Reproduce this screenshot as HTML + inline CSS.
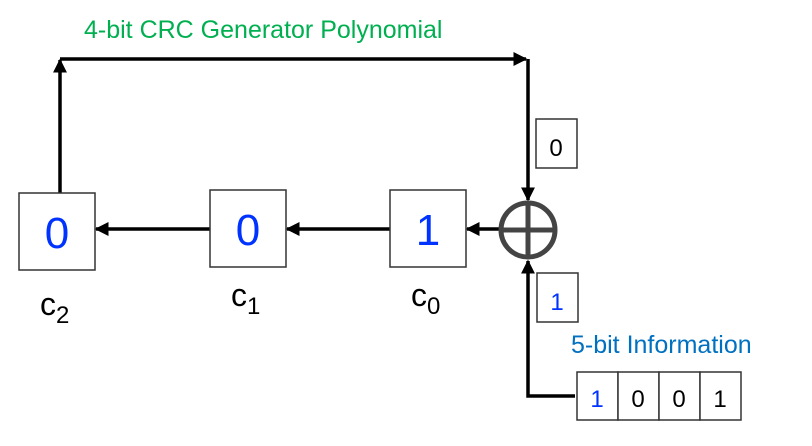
<!DOCTYPE html>
<html><head><style>
body{margin:0;background:#fff;}
svg text{font-family:"Liberation Sans",sans-serif;}
</style></head><body>
<svg width="812" height="441" viewBox="0 0 812 441" xmlns="http://www.w3.org/2000/svg">
<defs>
<marker id="a" viewBox="0 0 10 10" refX="9" refY="5" markerWidth="4" markerHeight="4" orient="auto"><path d="M0,0L10,5L0,10z" fill="#000"/></marker>
</defs>
<text x="84" y="38" font-size="25" fill="#00b050">4-bit CRC Generator Polynomial</text>
<g stroke="#000" stroke-width="3.5" fill="none">
<polyline points="60,193 60,60" marker-end="url(#a)"/>
<polyline points="60,59 526,59" marker-end="url(#a)"/>
<polyline points="528,59 528,200" marker-end="url(#a)"/>
<polyline points="210,229 96,229" marker-end="url(#a)"/>
<polyline points="390,229 287,229" marker-end="url(#a)"/>
<polyline points="500,229 467,229" marker-end="url(#a)"/>
<polyline points="575,396 528,396 528,261" marker-end="url(#a)"/>
</g>
<circle cx="528" cy="230" r="27" fill="#fff" stroke="#444" stroke-width="5"/>
<line x1="501" y1="230" x2="555" y2="230" stroke="#444" stroke-width="5"/>
<line x1="528" y1="203" x2="528" y2="257" stroke="#444" stroke-width="5"/>
<g fill="#fff" stroke="#333" stroke-width="1.5">
<rect x="19" y="193" width="76" height="77"/>
<rect x="210" y="190" width="76" height="77"/>
<rect x="390" y="190" width="76" height="77"/>
<rect x="536" y="119" width="41" height="49"/>
<rect x="537" y="273" width="41" height="49"/>
<rect x="577" y="372" width="41" height="48"/>
<rect x="618" y="372" width="41" height="48"/>
<rect x="659" y="372" width="41" height="48"/>
<rect x="700" y="372" width="41" height="48"/>
</g>
<g font-size="44" fill="#0033ff" text-anchor="middle">
<text x="57" y="248">0</text>
<text x="248" y="245">0</text>
<text x="428" y="245">1</text>
</g>
<text x="556" y="156" font-size="24" text-anchor="middle">0</text>
<text x="557" y="310" font-size="24" text-anchor="middle" fill="#0033ff">1</text>
<g font-size="24" text-anchor="middle">
<text x="597" y="407" fill="#0033ff">1</text>
<text x="638" y="407">0</text>
<text x="679" y="407">0</text>
<text x="720" y="407">1</text>
</g>
<text x="571" y="353" font-size="25" fill="#0070c0">5-bit Information</text>
<g font-size="32">
<text x="40" y="315">c<tspan font-size="24" dy="8">2</tspan></text>
<text x="231" y="306">c<tspan font-size="24" dy="8">1</tspan></text>
<text x="411" y="306">c<tspan font-size="24" dy="8">0</tspan></text>
</g>
</svg>
</body></html>
